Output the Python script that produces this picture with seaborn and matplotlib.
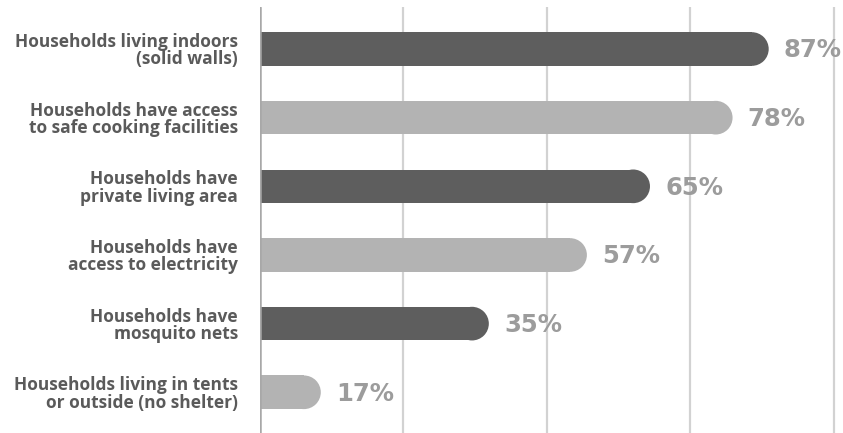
import matplotlib
matplotlib.use("Agg")
import matplotlib.pyplot as plt
from matplotlib.patches import Ellipse
import seaborn as sns
import pandas as pd

# ── Data ──────────────────────────────────────────────────────────────────────
categories = [
    "Households living indoors\n(solid walls)",
    "Households have access\nto safe cooking facilities",
    "Households have\nprivate living area",
    "Households have\naccess to electricity",
    "Households have\nmosquito nets",
    "Households living in tents\nor outside (no shelter)",
]
pct_labels = [87, 78, 65, 57, 35, 17]
# bar lengths as drawn in the source graphic (0-100 gridded axis)
bar_length = [88.7, 82.4, 68.0, 57.0, 39.9, 10.6]

DARK  = "#5e5e5e"
LIGHT = "#b3b3b3"
bar_colors = [DARK, LIGHT, DARK, LIGHT, DARK, LIGHT]

df = pd.DataFrame({"cat": categories, "len": bar_length})

sns.set_theme(style="white")
plt.rcParams["font.family"] = ["Open Sans", "DejaVu Sans"]

fig = plt.figure(figsize=(8.43, 4.33), dpi=100)
ax = fig.add_axes([260 / 843, 0, 583 / 843, 1 - 7 / 433])

sns.barplot(data=df, x="len", y="cat", hue="cat", palette=bar_colors,
            legend=False, width=0.49, ax=ax, saturation=1, zorder=3)

XMAX = 583 / 5.735
ax.set_xlim(0, XMAX)
ax.set_ylim(5.593, -0.612)

# rounded right ends: shorten each bar by the cap radius and add a half-disc
px_per_x = 583 / XMAX
px_per_y = 68.66
for patch in ax.patches[:len(categories)]:
    h = patch.get_height()
    r = h * px_per_y / 2 / px_per_x
    w = patch.get_width()
    patch.set_width(w - r)
    patch.set_edgecolor("none")
    yc = patch.get_y() + h / 2
    ax.add_patch(Ellipse((w - r, yc), 2 * r, h, facecolor=patch.get_facecolor(),
                         edgecolor="none", zorder=3))

# percent labels
for i, (w, p) in enumerate(zip(bar_length, pct_labels)):
    ax.annotate(f"{p}%", xy=(w, i), xytext=(11, -1), textcoords="offset points",
                va="center", ha="left", fontsize=17.5, fontweight="bold",
                color="#9c9c9c", family="DejaVu Sans", annotation_clip=False)

# grid lines
for gx in [25, 50, 75, 100]:
    ax.axvline(gx, color="#d2d2d2", lw=1.6, zorder=1)
ax.axvline(0, color="#a8a8a8", lw=1.8, zorder=4)

for s in ax.spines.values():
    s.set_visible(False)
ax.set_xticks([])
ax.set_xlabel("")
ax.set_ylabel("")
ax.tick_params(axis="y", length=0, pad=16)
for lbl in ax.get_yticklabels():
    lbl.set_fontsize(12.5)
    lbl.set_fontweight("bold")
    lbl.set_color("#5a5a5a")
    lbl.set_horizontalalignment("right")
    lbl.set_multialignment("right")
    lbl.set_linespacing(0.95)

fig.savefig("out.png", dpi=100)
